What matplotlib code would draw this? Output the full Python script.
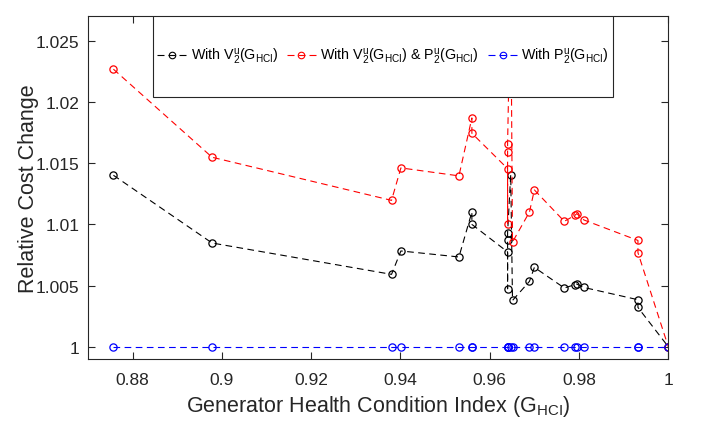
import numpy as np
import matplotlib
matplotlib.use('Agg')
import matplotlib.pyplot as plt
from matplotlib.patches import Rectangle
from matplotlib.lines import Line2D
from matplotlib.ticker import FormatStrFormatter

plt.rcParams['font.family'] = ['Liberation Sans', 'DejaVu Sans']
plt.rcParams['mathtext.fontset'] = 'custom'
plt.rcParams['mathtext.rm'] = 'Liberation Sans'
plt.rcParams['mathtext.it'] = 'Liberation Sans'
plt.rcParams['mathtext.bf'] = 'Liberation Sans'

# generator health condition index (sorted, some repeated)
g_hci = [0.8757, 0.8978, 0.9380, 0.9401, 0.9531, 0.9560, 0.9560, 0.9640, 0.9640, 0.9640, 0.9640,
         0.9647, 0.9651, 0.9689, 0.9700, 0.9767, 0.9791, 0.9795, 0.9811, 0.9932, 0.9932, 1.0000]

# relative cost change for each case
cost_v = [1.01400, 1.00847, 1.00591, 1.00782, 1.00733, 1.01100, 1.00999, 1.00774, 1.00474, 1.00874, 1.00931,
          1.01405, 1.00378, 1.00534, 1.00648, 1.00480, 1.00507, 1.00512, 1.00484, 1.00384, 1.00321, 1.00000]
cost_vp = [1.02266, 1.01547, 1.01195, 1.01460, 1.01395, 1.01868, 1.01743, 1.01454, 1.01005, 1.01591, 1.01658,
           1.03000, 1.00855, 1.01100, 1.01280, 1.01024, 1.01073, 1.01087, 1.01035, 1.00868, 1.00768, 1.00000]
cost_p = [1.0, 1.0, 1.0, 1.0, 1.0, 1.0, 1.0, 1.0, 1.0, 1.0, 1.0,
          1.0, 1.0, 1.0, 1.0, 1.0, 1.0, 1.0, 1.0, 1.0, 1.0, 1.0]

labels = [r'With V$\mathregular{_2^u}$(G$\mathregular{_{HCI}}$)',
          r'With V$\mathregular{_2^u}$(G$\mathregular{_{HCI}}$) & P$\mathregular{_2^u}$(G$\mathregular{_{HCI}}$)',
          r'With P$\mathregular{_2^u}$(G$\mathregular{_{HCI}}$)']
colors = ['k', '#ff0000', '#0000ff']

fig = plt.figure(figsize=(7.06, 4.35), dpi=100)
ax = fig.add_axes([0.1246, 0.1724, 0.822, 0.7885])

style = dict(linestyle='--', dashes=(6, 4), marker='o', markersize=5.2,
             markerfacecolor='none', linewidth=0.8, markeredgewidth=0.9)
for ys, c in zip([cost_v, cost_vp, cost_p], colors):
    ax.plot(g_hci, ys, color=c, **style)

ax.set_xlim(0.87, 1.0)
ax.set_ylim(0.999, 1.027)
ax.set_xticks([0.88, 0.9, 0.92, 0.94, 0.96, 0.98, 1.0])
ax.set_yticks([1.0, 1.005, 1.01, 1.015, 1.02, 1.025])
ax.xaxis.set_major_formatter(FormatStrFormatter('%g'))
ax.yaxis.set_major_formatter(FormatStrFormatter('%g'))
ax.tick_params(direction='in', top=True, right=True, length=5, width=0.8,
               labelsize=12.5, colors='#262626')
ax.tick_params(axis='x', pad=9)
ax.tick_params(axis='y', pad=6)
for sp in ax.spines.values():
    sp.set_color('#262626')
    sp.set_linewidth(0.8)

ax.set_xlabel(r'Generator Health Condition Index (G$\mathregular{_{HCI}}$)', fontsize=15.5, color='#262626', labelpad=5)
ax.set_ylabel('Relative Cost Change', fontsize=15.5, color='#262626', labelpad=-2)

# legend box (tall, MATLAB style)
box = Rectangle((0.112, 0.7638), 0.793, 0.2362, transform=ax.transAxes,
                facecolor='white', edgecolor='#262626', linewidth=0.8, zorder=5)
ax.add_patch(box)
handles = [Line2D([], [], color=c, linestyle='--', dashes=(6.3, 3.6), linewidth=0.8,
                  marker='o', markersize=4.7, markerfacecolor='none', markeredgewidth=0.8)
           for c in colors]
leg = ax.legend(handles=handles, labels=labels, loc='center', bbox_to_anchor=(0.5085, 0.883),
                ncol=3, frameon=False, fontsize=10.3, handlelength=2.05,
                handletextpad=0.3, columnspacing=0.6, borderaxespad=0)
leg.set_zorder(6)

fig.savefig('out.png', dpi=100)
